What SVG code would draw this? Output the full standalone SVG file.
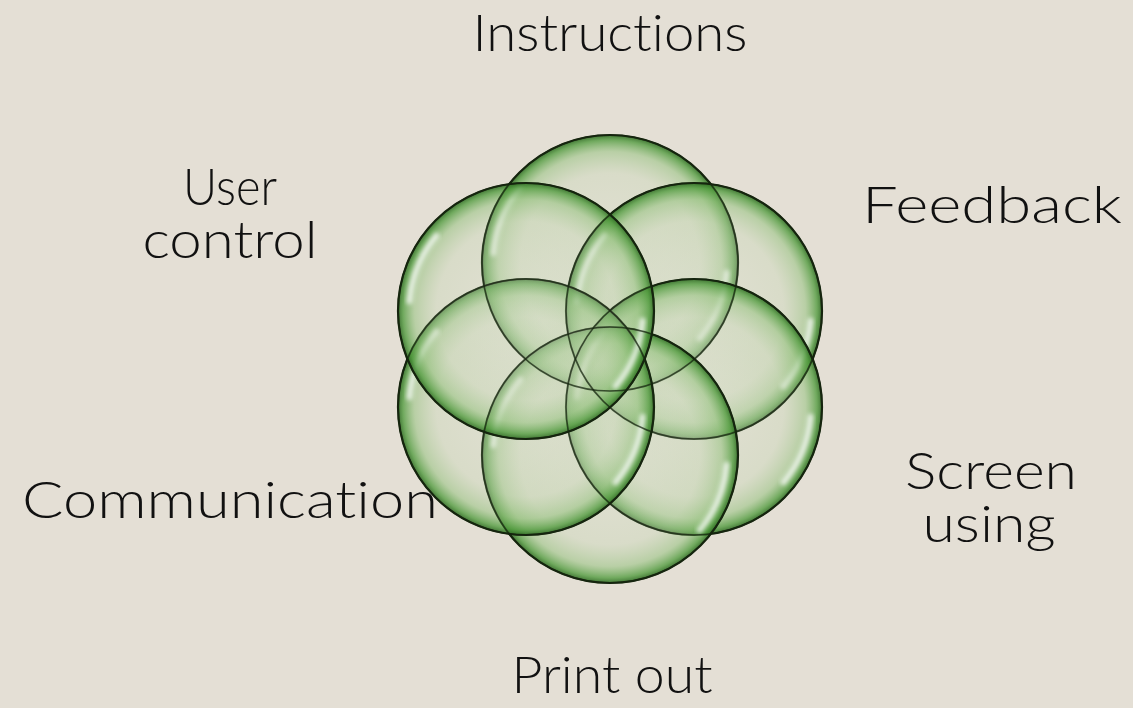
<svg xmlns="http://www.w3.org/2000/svg" width="1133" height="708" viewBox="0 0 1133 708">
  <defs>
    <radialGradient id="bub" cx="0.5" cy="0.5" r="0.5">
      <stop offset="0" stop-color="#dde3d1" stop-opacity="0.3"/>
      <stop offset="0.7" stop-color="#c4d6b2" stop-opacity="0.36"/>
      <stop offset="0.87" stop-color="#8dbf76" stop-opacity="0.5"/>
      <stop offset="0.96" stop-color="#4f9a3c" stop-opacity="0.78"/>
      <stop offset="1" stop-color="#2e6a22" stop-opacity="0.9"/>
    </radialGradient>
    <filter id="soft" x="-20%" y="-20%" width="140%" height="140%">
      <feGaussianBlur stdDeviation="2"/>
    </filter>
  </defs>
  <style>
    .bg { fill: #e4dfd5; }
    .c { fill: url(#bub); stroke: #16250f; stroke-width: 2.2; }
    .ol { fill: none; stroke: #16250f; stroke-width: 1.6; stroke-opacity: 0.75; }
    .hl { fill: none; stroke: #ffffff; stroke-opacity: 0.75; stroke-width: 6; stroke-linecap: round; filter: url(#soft); }
    .lbl { font-family: "Lato", "Liberation Sans", Arial, sans-serif; font-weight: 300; font-size: 52px; fill: #111111; text-anchor: middle; font-variant-ligatures: none; }
  </style>
  <rect class="bg" x="0" y="0" width="1133" height="708"/>
  <g id="connectors"/>

  <g id="node-instructions">
    <circle class="c" cx="610" cy="263" r="128"/>
    <path class="hl" d="M 493.4 253.2 A 117 117 0 0 1 520.4 187.8"/>
    <path class="hl" d="M 726.6 272.8 A 117 117 0 0 1 699.6 338.2"/>
    <text class="lbl" x="610" y="51" textLength="275" lengthAdjust="spacingAndGlyphs">Instructions</text>
  </g>

  <g id="node-feedback">
    <circle class="c" cx="694" cy="311" r="128"/>
    <path class="hl" d="M 577.4 301.2 A 117 117 0 0 1 604.4 235.8"/>
    <path class="hl" d="M 810.6 320.8 A 117 117 0 0 1 783.6 386.2"/>
    <text class="lbl" x="992" y="223" textLength="260" lengthAdjust="spacingAndGlyphs">Feedback</text>
  </g>

  <g id="node-screen-using">
    <circle class="c" cx="694" cy="407" r="128"/>
    <path class="hl" d="M 577.4 397.2 A 117 117 0 0 1 604.4 331.8"/>
    <path class="hl" d="M 810.6 416.8 A 117 117 0 0 1 783.6 482.2"/>
    <text class="lbl"><tspan x="991" y="489" textLength="172" lengthAdjust="spacingAndGlyphs">Screen</tspan><tspan x="989" y="542" textLength="133" lengthAdjust="spacingAndGlyphs">using</tspan></text>
  </g>

  <g id="node-print-out">
    <circle class="c" cx="610" cy="455" r="128"/>
    <path class="hl" d="M 493.4 445.2 A 117 117 0 0 1 520.4 379.8"/>
    <path class="hl" d="M 726.6 464.8 A 117 117 0 0 1 699.6 530.2"/>
    <text class="lbl" x="612" y="693" textLength="201" lengthAdjust="spacingAndGlyphs">Print out</text>
  </g>

  <g id="node-communication">
    <circle class="c" cx="526" cy="407" r="128"/>
    <path class="hl" d="M 409.4 397.2 A 117 117 0 0 1 436.4 331.8"/>
    <path class="hl" d="M 642.6 416.8 A 117 117 0 0 1 615.6 482.2"/>
    <text class="lbl" x="230" y="518" textLength="416" lengthAdjust="spacingAndGlyphs">Communication</text>
  </g>

  <g id="node-user-control">
    <circle class="c" cx="526" cy="311" r="128"/>
    <path class="hl" d="M 409.4 301.2 A 117 117 0 0 1 436.4 235.8"/>
    <path class="hl" d="M 642.6 320.8 A 117 117 0 0 1 615.6 386.2"/>
    <text class="lbl"><tspan x="230" y="205" textLength="94" lengthAdjust="spacingAndGlyphs">User</tspan><tspan x="230" y="258" textLength="175" lengthAdjust="spacingAndGlyphs">control</tspan></text>
  </g>

  <g id="outlines">
    <circle class="ol" cx="610" cy="263" r="128"/>
    <circle class="ol" cx="694" cy="311" r="128"/>
    <circle class="ol" cx="694" cy="407" r="128"/>
    <circle class="ol" cx="610" cy="455" r="128"/>
    <circle class="ol" cx="526" cy="407" r="128"/>
    <circle class="ol" cx="526" cy="311" r="128"/>
  </g>
</svg>
